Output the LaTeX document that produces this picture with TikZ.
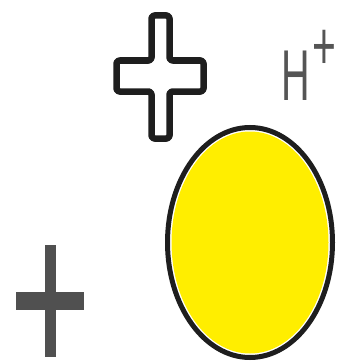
\documentclass[tikz,border=0pt]{standalone}
\usepackage{fontspec}
\setmainfont{Liberation Sans}
\usetikzlibrary{positioning}
\definecolor{darkline}{RGB}{30, 30, 30}
\definecolor{plusgray}{RGB}{80, 80, 80}
\definecolor{ionyellow}{RGB}{255, 238, 0}
\definecolor{labelgray}{RGB}{85, 85, 85}

\begin{document}
\begin{tikzpicture}[x=1pt, y=-1pt]
    \useasboundingbox (0,0) rectangle (337,361);
    % outlined plus
    \draw[
        darkline,
        line width=6.5pt,
        rounded corners=3pt,
        line join=round
    ] (151.5,15.5) -- (169.5,15.5) -- (169.5,60.5) -- (203.5,60.5)
      -- (203.5,91.5) -- (169.5,91.5) -- (169.5,138.5) -- (151.5,138.5)
      -- (151.5,91.5) -- (116.5,91.5) -- (116.5,60.5) -- (151.5,60.5) -- cycle;
    % ion label
    \node[
        anchor=base west,
        inner sep=0pt,
        text=labelgray,
        xscale=0.55,
        font=\fontsize{72}{72}\selectfont
    ] (hletter) at (281,100) {H};
    \node[
        anchor=center,
        inner sep=0pt,
        text=labelgray,
        xscale=0.6,
        font=\fontsize{68}{68}\selectfont
    ] (charge) at (324,50) {+};
    % yellow ellipse
    \draw[darkline, line width=5pt, fill=white] (250,242.5) ellipse [x radius=82.5, y radius=115];
    \fill[ionyellow] (250,242.5) ellipse [x radius=78.5, y radius=111];
    % filled plus
    \fill[plusgray] (45,245) rectangle (56,357);
    \fill[plusgray] (16,292) rectangle (84,310);
\end{tikzpicture}
\end{document}
